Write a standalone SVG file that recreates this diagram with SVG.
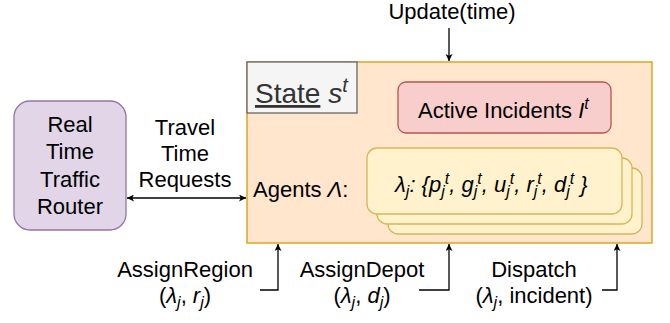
<svg xmlns="http://www.w3.org/2000/svg" width="670" height="323" viewBox="0 0 670 323">
<defs>
<marker id="ah" viewBox="0 0 10 10" refX="10" refY="5" markerWidth="7" markerHeight="7" markerUnits="userSpaceOnUse" orient="auto-start-reverse">
<path d="M0,0 L10,5 L0,10 L2.5,5 Z" fill="#000"/>
</marker>
<style>
text{font-family:"Liberation Sans",Arial,sans-serif;font-size:22px;fill:#000}
.c{text-anchor:middle}
.i{font-style:italic}
.sm{font-size:16px}
.conn{fill:none;stroke:#000;stroke-width:1.3}
</style>
</defs>
<rect width="670" height="323" fill="#fff"/>
<g id="state">
<rect x="247" y="62" width="405" height="181" fill="#ffe6cc" stroke="#d79b00" stroke-width="1.3"/>
</g>
<g id="state-label">
<rect x="247" y="62" width="110" height="51" fill="#f5f5f5" stroke="#666" stroke-width="1.3"/>
<text x="255" y="103" style="font-size:28px;fill:#333"><tspan text-decoration="underline">State</tspan> <tspan class="i">s</tspan><tspan class="i" style="font-size:20px" dy="-11">t</tspan></text>
</g>
<g id="incidents">
<rect x="398" y="82" width="213" height="51" rx="8" fill="#f8cecc" stroke="#b85450" stroke-width="1.3"/>
<text x="418" y="118">Active Incidents <tspan class="i">I</tspan><tspan class="i sm" dy="-9">t</tspan></text>
</g>
<g id="agents">
<text x="253" y="197">Agents <tspan class="i">Λ</tspan>:</text>
<rect x="388" y="168" width="254" height="66" rx="10" fill="#fff2cc" stroke="#d6b656" stroke-width="1.3"/>
<rect x="377" y="158" width="255" height="66" rx="10" fill="#fff2cc" stroke="#d6b656" stroke-width="1.3"/>
<rect x="367" y="148" width="255" height="66" rx="10" fill="#fff2cc" stroke="#d6b656" stroke-width="1.3"/>
<text x="395" y="192" class="i">λ<tspan class="sm" dy="5">j</tspan><tspan dy="-5">: {p</tspan><tspan class="sm" dy="5">j</tspan><tspan class="sm" dy="-13">t</tspan><tspan dy="8">, g</tspan><tspan class="sm" dy="5">j</tspan><tspan class="sm" dy="-13">t</tspan><tspan dy="8">, u</tspan><tspan class="sm" dy="5">j</tspan><tspan class="sm" dy="-13">t</tspan><tspan dy="8">, r</tspan><tspan class="sm" dy="5">j</tspan><tspan class="sm" dy="-13">t</tspan><tspan dy="8">, d</tspan><tspan class="sm" dy="5">j</tspan><tspan class="sm" dy="-13">t</tspan><tspan dy="8"> }</tspan></text>
</g>
<g id="router">
<rect x="14" y="101" width="112" height="129" rx="16" fill="#e1d5e7" stroke="#9673a6" stroke-width="1.3"/>
<text class="c" x="70" y="132">Real</text>
<text class="c" x="70" y="159">Time</text>
<text class="c" x="70" y="187">Traffic</text>
<text class="c" x="70" y="214">Router</text>
</g>
<g id="connectors">
<path class="conn" d="M449,28 V61" marker-end="url(#ah)"/>
<path class="conn" d="M127,198 H246" marker-start="url(#ah)" marker-end="url(#ah)"/>
<path class="conn" d="M260,290 H278 V244" marker-end="url(#ah)"/>
<path class="conn" d="M419,290 H449 V244" marker-end="url(#ah)"/>
<path class="conn" d="M602,290 H617 V244" marker-end="url(#ah)"/>
</g>
<g id="labels">
<text class="c" x="452" y="19">Update(time)</text>
<text class="c" x="185" y="135">Travel</text>
<text class="c" x="185" y="161">Time</text>
<text class="c" x="185" y="187">Requests</text>
<text class="c" x="185" y="277">AssignRegion</text>
<text class="c" x="185" y="303">(<tspan class="i">λ</tspan><tspan class="i sm" dy="5">j</tspan><tspan dy="-5">, </tspan><tspan class="i">r</tspan><tspan class="i sm" dy="5">j</tspan><tspan dy="-5">)</tspan></text>
<text class="c" x="362" y="277">AssignDepot</text>
<text class="c" x="362" y="303">(<tspan class="i">λ</tspan><tspan class="i sm" dy="5">j</tspan><tspan dy="-5">, </tspan><tspan class="i">d</tspan><tspan class="i sm" dy="5">j</tspan><tspan dy="-5">)</tspan></text>
<text class="c" x="534" y="277">Dispatch</text>
<text class="c" x="534" y="303">(<tspan class="i">λ</tspan><tspan class="i sm" dy="5">j</tspan><tspan dy="-5">, incident)</tspan></text>
</g>
</svg>
